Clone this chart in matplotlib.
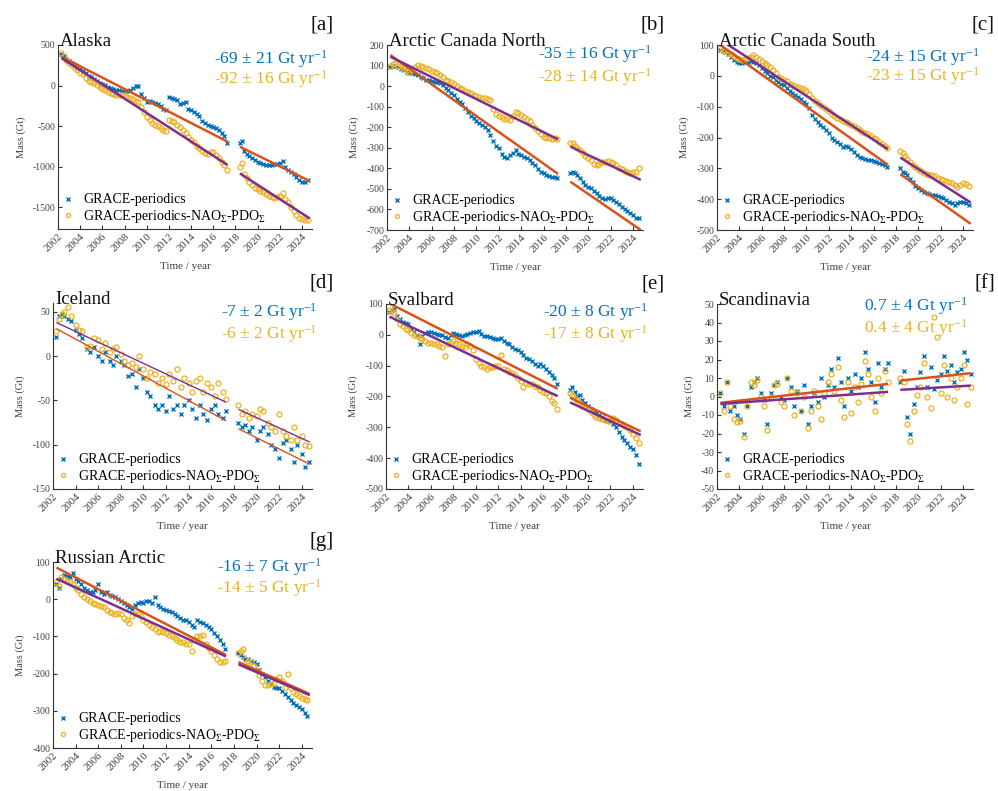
import matplotlib
matplotlib.use("Agg")
import matplotlib.pyplot as plt

plt.rcParams["font.family"] = ["Liberation Serif", "DejaVu Serif"]
plt.rcParams["mathtext.fontset"] = "custom"
plt.rcParams["mathtext.rm"] = "Liberation Serif"
plt.rcParams["mathtext.it"] = "Liberation Serif:italic"
plt.rcParams["axes.unicode_minus"] = False

BLUE = "#0072BD"
YELLOW = "#EDB120"
ORANGE = "#D95319"
PURPLE = "#7E2F8E"
AXC = "#333333"

# ---- sampling dates of the readings (GRACE, then GRACE-FO) ----
t_quarter = [2002.3, 2002.5, 2002.75,
             2003.0, 2003.25, 2003.5, 2003.75, 2004.0, 2004.25, 2004.5, 2004.75,
             2005.0, 2005.25, 2005.5, 2005.75, 2006.0, 2006.25, 2006.5, 2006.75,
             2007.0, 2007.25, 2007.5, 2007.75, 2008.0, 2008.25, 2008.5, 2008.75,
             2009.0, 2009.25, 2009.5, 2009.75, 2010.0, 2010.25, 2010.5, 2010.75,
             2011.0, 2011.25, 2011.5, 2011.75, 2012.0, 2012.25, 2012.5, 2012.75,
             2013.0, 2013.25, 2013.5, 2013.75, 2014.0, 2014.25, 2014.5, 2014.75,
             2015.0, 2015.25, 2015.5, 2015.75, 2016.0, 2016.25, 2016.5, 2016.75,
             2017.0, 2017.25,
             2018.4, 2018.6, 2018.8,
             2019.0, 2019.25, 2019.5, 2019.75, 2020.0, 2020.25, 2020.5, 2020.75,
             2021.0, 2021.25, 2021.5, 2021.75, 2022.0, 2022.25, 2022.5, 2022.75,
             2023.0, 2023.25, 2023.5, 2023.75, 2024.0, 2024.25, 2024.5]

t_third = [2002.3, 2002.5, 2002.8, 2003.0, 2003.3, 2003.6, 2004.0, 2004.3,
           2004.6, 2005.0, 2005.3, 2005.6, 2006.0, 2006.3, 2006.6, 2007.0,
           2007.3, 2007.6, 2008.0, 2008.3, 2008.6, 2009.0, 2009.3, 2009.6,
           2010.0, 2010.3, 2010.6, 2011.0, 2011.3, 2011.6, 2012.0, 2012.3,
           2012.6, 2013.0, 2013.3, 2013.6, 2014.0, 2014.3, 2014.6, 2015.0,
           2015.3, 2015.6, 2016.0, 2016.3, 2016.6, 2017.0, 2017.3,
           2018.4, 2018.7, 2019.0, 2019.3, 2019.6, 2020.0, 2020.3, 2020.6,
           2021.0, 2021.3, 2021.6, 2022.0, 2022.3, 2022.6, 2023.0, 2023.3,
           2023.6, 2024.0, 2024.3, 2024.6]

t_scan = [2002.3, 2002.6, 2002.9, 2003.2, 2003.5, 2003.8, 2004.1, 2004.4,
          2004.7, 2005.0, 2005.3, 2005.6, 2005.9, 2006.2, 2006.5, 2006.8,
          2007.1, 2007.4, 2007.7, 2008.0, 2008.3, 2008.6, 2008.9, 2009.2,
          2009.5, 2009.8, 2010.1, 2010.4, 2010.7, 2011.0, 2011.3, 2011.6,
          2011.9, 2012.2, 2012.5, 2012.8, 2013.1, 2013.4, 2013.7, 2014.0,
          2014.3, 2014.6, 2014.9, 2015.2, 2015.5, 2015.8, 2016.1, 2016.4,
          2016.7, 2017.0, 2017.3,
          2018.4, 2018.7, 2019.0, 2019.3, 2019.6, 2019.9, 2020.2, 2020.5,
          2020.8, 2021.1, 2021.4, 2021.7, 2022.0, 2022.3, 2022.6, 2022.9,
          2023.2, 2023.5, 2023.8, 2024.1, 2024.4, 2024.7]

# ---- mass anomalies (Gt) ----
alaska_grace = [385, 370, 330,
                300, 280, 250, 230, 200, 180, 150, 120,
                100, 80, 50, 30, 15, 5, -15, -35,
                -40, -50, -55, -70, -75, -65, -55, -25,
                -10, -5, -110, -160, -200, -195, -205, -215,
                -225, -255, -290, -300, -140, -150, -165, -175,
                -230, -210, -200, -285, -305, -325, -355, -380,
                -440, -460, -490, -500, -510, -530, -550, -590,
                -620, -710,
                -710, -690, -810,
                -850, -875, -900, -920, -940, -960, -970, -980,
                -985, -975, -970, -965, -955, -930, -1000, -1045,
                -1070, -1090, -1130, -1160, -1185, -1190, -1170]
alaska_npdo = [400, 360, 315,
               280, 250, 215, 190, 160, 140, 95, 60,
               40, 30, 5, -15, -40, -60, -75, -95,
               -100, -115, -120, -115, -120, -140, -155, -165,
               -185, -205, -260, -330, -390, -420, -460, -490,
               -505, -530, -550, -560, -425, -435, -455, -485,
               -510, -545, -590, -635, -670, -700, -740, -765,
               -810, -830, -840, -825, -820, -860, -890, -940,
               -975, -1040,
               -1000, -960, -1090,
               -1140, -1190, -1230, -1260, -1280, -1300, -1310, -1340,
               -1360, -1380, -1390, -1375, -1360, -1330, -1400, -1440,
               -1500, -1550, -1600, -1630, -1650, -1665, -1660]

acn_grace = [95, 100, 100,
             95, 85, 78, 70, 65, 62, 57, 52,
             45, 40, 32, 28, 24, 22, 18, 14,
             5, -10, -20, -33, -45, -65, -75, -85,
             -105, -125, -145, -155, -170, -180, -190, -200,
             -213, -240, -265, -290, -300, -330, -345, -350,
             -335, -325, -310, -330, -335, -345, -350, -360,
             -372, -385, -405, -418, -425, -432, -436, -440,
             -442, -448,
             -425, -416, -425,
             -432, -445, -468, -480, -490, -498, -510, -520,
             -535, -545, -548, -546, -546, -555, -565, -575,
             -588, -596, -608, -618, -628, -640, -640]
acn_npdo = [100, 108, 111,
            100, 95, 87, 78, 70, 80, 95, 103,
            98, 95, 90, 82, 75, 70, 62, 55,
            42, 32, 25, 20, 8, 0, -8, -15,
            -22, -28, -35, -42, -50, -52, -56, -60,
            -62, -67, -110, -135, -145, -152, -158, -162,
            -165, -145, -128, -130, -140, -150, -160, -172,
            -190, -205, -220, -235, -246, -250, -254, -255,
            -254, -258,
            -275, -278, -290,
            -300, -311, -325, -338, -348, -360, -378, -384,
            -378, -370, -367, -366, -367, -372, -385, -398,
            -405, -412, -420, -424, -420, -416, -400]

acs_grace = [84, 82, 76,
             70, 60, 50, 45, 43, 41, 44, 46,
             48, 45, 42, 35, 25, 15, 8, 0,
             -5, -12, -19, -25, -30, -40, -48, -55,
             -62, -70, -76, -84, -92, -105, -127, -140,
             -149, -158, -167, -175, -185, -200, -208, -213,
             -222, -230, -228, -232, -238, -248, -257, -262,
             -267, -270, -272, -274, -276, -278, -282, -287,
             -290, -296,
             -300, -311, -316,
             -322, -333, -345, -356, -364, -371, -377, -381,
             -383, -385, -387, -390, -392, -397, -402, -408,
             -414, -419, -412, -408, -410, -413, -418]
acs_npdo = [89, 85, 80,
            75, 70, 64, 58, 54, 51, 54, 57,
            62, 68, 62, 55, 48, 42, 35, 28,
            20, 8, -3, -8, -12, -18, -25, -30,
            -32, -35, -38, -44, -50, -60, -73, -80,
            -87, -93, -100, -107, -115, -125, -130, -136,
            -140, -145, -149, -153, -158, -163, -170, -176,
            -181, -185, -190, -195, -200, -205, -213, -220,
            -228, -235,
            -245, -251, -260,
            -270, -279, -288, -297, -303, -308, -314, -317,
            -320, -322, -325, -330, -335, -339, -341, -343,
            -348, -354, -359, -353, -349, -352, -358]

iceland_grace = [22, 45, 48, 45, 42, 40, 30, 25, 20, 8, 5, 10, 0, -5, 5, -5,
                 -10, 0, -5, -10, -22, -20, -35, -15, -25, -40, -45, -55, -60,
                 -55, -62, -45, -60, -55, -65, -55, -50, -60, -70, -55, -65,
                 -72, -60, -55, -65, -70, -62,
                 -75, -80, -78, -85, -80, -95, -85, -80, -88, -100, -105, -115,
                 -98, -95, -105, -120, -100, -110, -125, -120]
iceland_npdo = [28, 42, 48, 50, 55, 45, 35, 30, 28, 10, 12, 20, 18, 8, 15, 5,
                8, 10, 2, -5, -10, -8, -12, 0, -15, -25, -18, -20, -30, -25,
                -32, -20, -28, -15, -35, -25, -30, -40, -28, -25, -40, -30,
                -35, -45, -30, -40, -48,
                -55, -65, -62, -70, -65, -68, -60, -62, -75, -80, -85, -65,
                -85, -90, -95, -80, -95, -90, -100, -102]

svalbard_grace = [75, 80, 85,
                  62, 50, 40, 38, 35, 20, 10, 0,
                  -30, -5, 5, 8, 10, 5, 2, 0,
                  -2, -8, -10, 0, 5, 2, 0, -5,
                  -2, 3, 5, 8, 10, 12, 2, -3,
                  -5, -8, -10, -12, -15, -10, -20, -25,
                  -30, -40, -45, -50, -55, -65, -75, -80,
                  -85, -95, -100, -95, -100, -110, -120, -130,
                  -140, -160,
                  -180, -170, -185,
                  -200, -195, -210, -220, -230, -240, -250, -255,
                  -260, -268, -275, -278, -280, -290, -300, -315,
                  -330, -340, -350, -365, -370, -390, -420]
svalbard_npdo = [80, 78, 70,
                 50, 35, 30, 20, 15, 5, 0, -5,
                 -10, -15, -20, -25, -25, -30, -30, -35,
                 -40, -70, -30, -25, -20, -25, -30, -35,
                 -40, -30, -35, -50, -80, -90, -100, -105,
                 -110, -105, -105, -100, -100, -65, -110, -115,
                 -120, -125, -130, -140, -150, -170, -155, -160,
                 -160, -165, -170, -178, -185, -190, -200, -215,
                 -220, -240,
                 -190, -195, -205,
                 -210, -220, -230, -235, -240, -250, -260, -265,
                 -270, -272, -275, -278, -280, -270, -275, -285,
                 -290, -295, -300, -310, -320, -335, -350]

scand_grace = [2, -5, 8, -8, -5, -10, -12, -20, -5, 5, 8, 10, 2, -2, -15, 2,
               6, 8, 0, -2, 10, 5, -5, 3, -8, 6, -15, -5, 2, -3, 10, 0, 6, 15,
               5, 21, 8, -5, 10, 3, 12, 5, 10, 24, 15, 8, -3, 18, 5, 15, 18,
               8, 14, -11, -20, -4, 5, 13, 22, 5, 16, 4, 9, 12, 22, 14, 17, 8,
               13, 15, 24, 20, 12]
scand_npdo = [2, -8, 8, -5, -12, -14, -13, -22, -5, 8, 6, 9, 0, -5, -18, 0,
              6, 7, -3, -5, 10, 3, -10, 2, -8, 0, -17, -8, 3, -5, -12, 2, 8,
              12, 3, 16, -2, -11, 8, -9, 5, -3, 7, 19, 12, 0, -8, 10, 2, 14, 8,
              10, 8, -15, -24, -8, 1, 5, 18, 0, -6, 43, 32, 2, 17, 0, 10, -2,
              5, 10, 17, -4, 5]

russia_grace = [40, 30, 55,
                65, 62, 60, 70, 55, 50, 40, 30,
                25, 20, 20, 25, 40, 20, 15, 20,
                10, 8, 5, 0, -5, -10, -15, -20,
                -25, -15, -10, -8, -10, -5, -5, -10,
                5, -15, -20, -25, -30, -32, -35, -40,
                -45, -50, -55, -55, -60, -70, -75, -55,
                -60, -65, -70, -75, -80, -90, -100, -110,
                -120, -135,
                -145, -150, -155,
                -160, -162, -165, -170, -175, -190, -200, -210,
                -220, -228, -235, -238, -240, -248, -255, -262,
                -270, -278, -285, -290, -295, -305, -315]
russia_npdo = [45, 35, 60,
               55, 50, 45, 40, 30, 25, 15, 5,
               0, -5, -10, -12, -15, -18, -20, -28,
               -35, -38, -40, -38, -40, -50, -55, -65,
               -45, -40, -40, -45, -55, -60, -70, -75,
               -80, -88, -85, -88, -90, -95, -100, -105,
               -110, -115, -115, -120, -120, -138, -110, -100,
               -100, -95, -120, -130, -140, -150, -160, -170,
               -170, -165,
               -145, -140, -135,
               -160, -165, -170, -180, -190, -205, -220, -230,
               -230, -228, -225, -215, -210, -220, -240, -200,
               -240, -250, -255, -260, -265, -268, -270]

# ---- linear trends: (start, end) of GRACE segment, then GRACE-FO segment ----
seg_t = [(2002.3, 2017.3), (2018.4, 2024.7)]
alaska_fit = [[(356, -693), (-755, -1179)], [(340, -981), (-1084, -1640)]]
acn_fit = [[(151, -427), (-465, -700)], [(143, -259), (-294, -456)]]
acs_fit = [[(100, -289), (-319, -480)], [(117, -238), (-265, -411)]]
iceland_fit = [[(31, -73), (-82, -122)], [(38, -52), (-60, -97)]]
svalbard_fit = [[(102, -175), (-204, -313)], [(59, -199), (-219, -325)]]
scand_fit = [[(-3.4, 6.8), (8.6, 12.6)], [(-4, 2.5), (3.6, 5.9)]]
russia_fit = [[(85, -150), (-169, -255)], [(55, -154), (-175, -258)]]

regions = ["Alaska", "Arctic Canada North", "Arctic Canada South", "Iceland",
           "Svalbard", "Scandinavia", "Russian Arctic"]
tags = ["[a]", "[b]", "[c]", "[d]", "[e]", "[f]", "[g]"]
rate_grace = ["-69 ± 21", "-35 ± 16", "-24 ± 15", "-7 ± 2", "-20 ± 8",
              "0.7 ± 4", "-16 ± 7"]
rate_npdo = ["-92 ± 16", "-28 ± 14", "-23 ± 15", "-6 ± 2", "-17 ± 8",
             "0.4 ± 4", "-14 ± 5"]
year_ticks = [2002, 2004, 2006, 2008, 2010, 2012, 2014, 2016, 2018, 2020,
              2022, 2024]

panels = [
    (t_quarter, alaska_grace, alaska_npdo, alaska_fit, (-1770, 500),
     [500, 0, -500, -1000, -1500]),
    (t_quarter, acn_grace, acn_npdo, acn_fit, (-700, 200),
     list(range(200, -701, -100))),
    (t_quarter, acs_grace, acs_npdo, acs_fit, (-500, 100),
     list(range(100, -501, -100))),
    (t_third, iceland_grace, iceland_npdo, iceland_fit, (-150, 60),
     [50, 0, -50, -100, -150]),
    (t_quarter, svalbard_grace, svalbard_npdo, svalbard_fit, (-500, 100),
     list(range(100, -501, -100))),
    (t_scan, scand_grace, scand_npdo, scand_fit, (-50, 50),
     list(range(50, -51, -10))),
    (t_quarter, russia_grace, russia_npdo, russia_fit, (-400, 100),
     list(range(100, -401, -100))),
]

# layout (pixels of the 998x791 canvas): left, top, width, height
W, H = 998, 791
boxes = [(58, 45, 254, 184), (387, 45, 256, 185), (717, 45, 256, 185),
         (53, 303, 259, 186), (386, 304, 257, 185), (717, 304, 256, 185),
         (53, 562, 259, 186)]
rate_x = [1.063, 1.035, 1.027, 1.02, 1.02, 0.98, 1.04]
rate_y = [(0.9, 0.79), (0.925, 0.80), (0.912, 0.805), (0.925, 0.81),
          (0.93, 0.81), (0.965, 0.845), (0.95, 0.835)]
fit_lw = [1.8, 1.8, 1.8, 1.0, 1.8, 1.8, 1.8]

fig = plt.figure(figsize=(W / 100, H / 100), dpi=100)

for i, (t, g, n, fit, ylim, yt) in enumerate(panels):
    l, top, w, h = boxes[i]
    ax = fig.add_axes([l / W, 1 - (top + h) / H, w / W, h / H])

    ax.plot(t, g, ls="none", marker="x", ms=3.3, mew=1.0, color=BLUE,
            label="GRACE-periodics")
    ax.plot(t, n, ls="none", marker="o", ms=3.6, mew=0.9, mfc="none",
            color=YELLOW, label="GRACE-periodics-NAO$_{Σ}$-PDO$_{Σ}$")
    for k, col in enumerate([ORANGE, PURPLE]):
        for (t0, t1), (v0, v1) in zip(seg_t, fit[k]):
            ax.plot([t0, t1], [v0, v1], color=col, lw=fit_lw[i],
                    solid_capstyle="butt")

    ax.set_xlim(2002, 2024.9)
    ax.set_ylim(*ylim)
    ax.set_yticks(yt)
    ax.set_xticks(year_ticks)
    ax.set_xticklabels([str(y) for y in year_ticks], rotation=45,
                       ha="right", rotation_mode="anchor")
    ax.tick_params(direction="in", length=3, width=0.8, labelsize=7,
                   color=AXC, labelcolor="#404040", pad=2)
    ax.tick_params(axis="x", labelsize=7.8)
    for s in ["top", "right"]:
        ax.spines[s].set_visible(False)
    for s in ["left", "bottom"]:
        ax.spines[s].set_color(AXC)
        ax.spines[s].set_linewidth(0.8)

    ax.set_ylabel("Mass (Gt)", fontsize=7.5, color="#404040", labelpad=5)
    ax.set_xlabel("Time / year", fontsize=8, color="#404040", labelpad=6)

    ax.text(0.008, 0.995, regions[i], transform=ax.transAxes, fontsize=13.5,
            va="baseline", ha="left", color="#111111")
    ax.text(1.085, 1.11, tags[i], transform=ax.transAxes, fontsize=15,
            va="center", ha="right", color="#111111")
    ax.text(rate_x[i], rate_y[i][0], rate_grace[i] + " Gt yr$^{-1}$",
            transform=ax.transAxes, fontsize=12.5, color=BLUE,
            ha="right", va="baseline")
    ax.text(rate_x[i], rate_y[i][1], rate_npdo[i] + " Gt yr$^{-1}$",
            transform=ax.transAxes, fontsize=12.5, color=YELLOW,
            ha="right", va="baseline")

    ax.legend(loc="lower left", frameon=False, fontsize=10, borderaxespad=0.2,
              borderpad=0.1, handlelength=0.8, handletextpad=0.7,
              labelspacing=0.1, markerscale=0.8)

fig.savefig("out.png", dpi=100, facecolor="white")
